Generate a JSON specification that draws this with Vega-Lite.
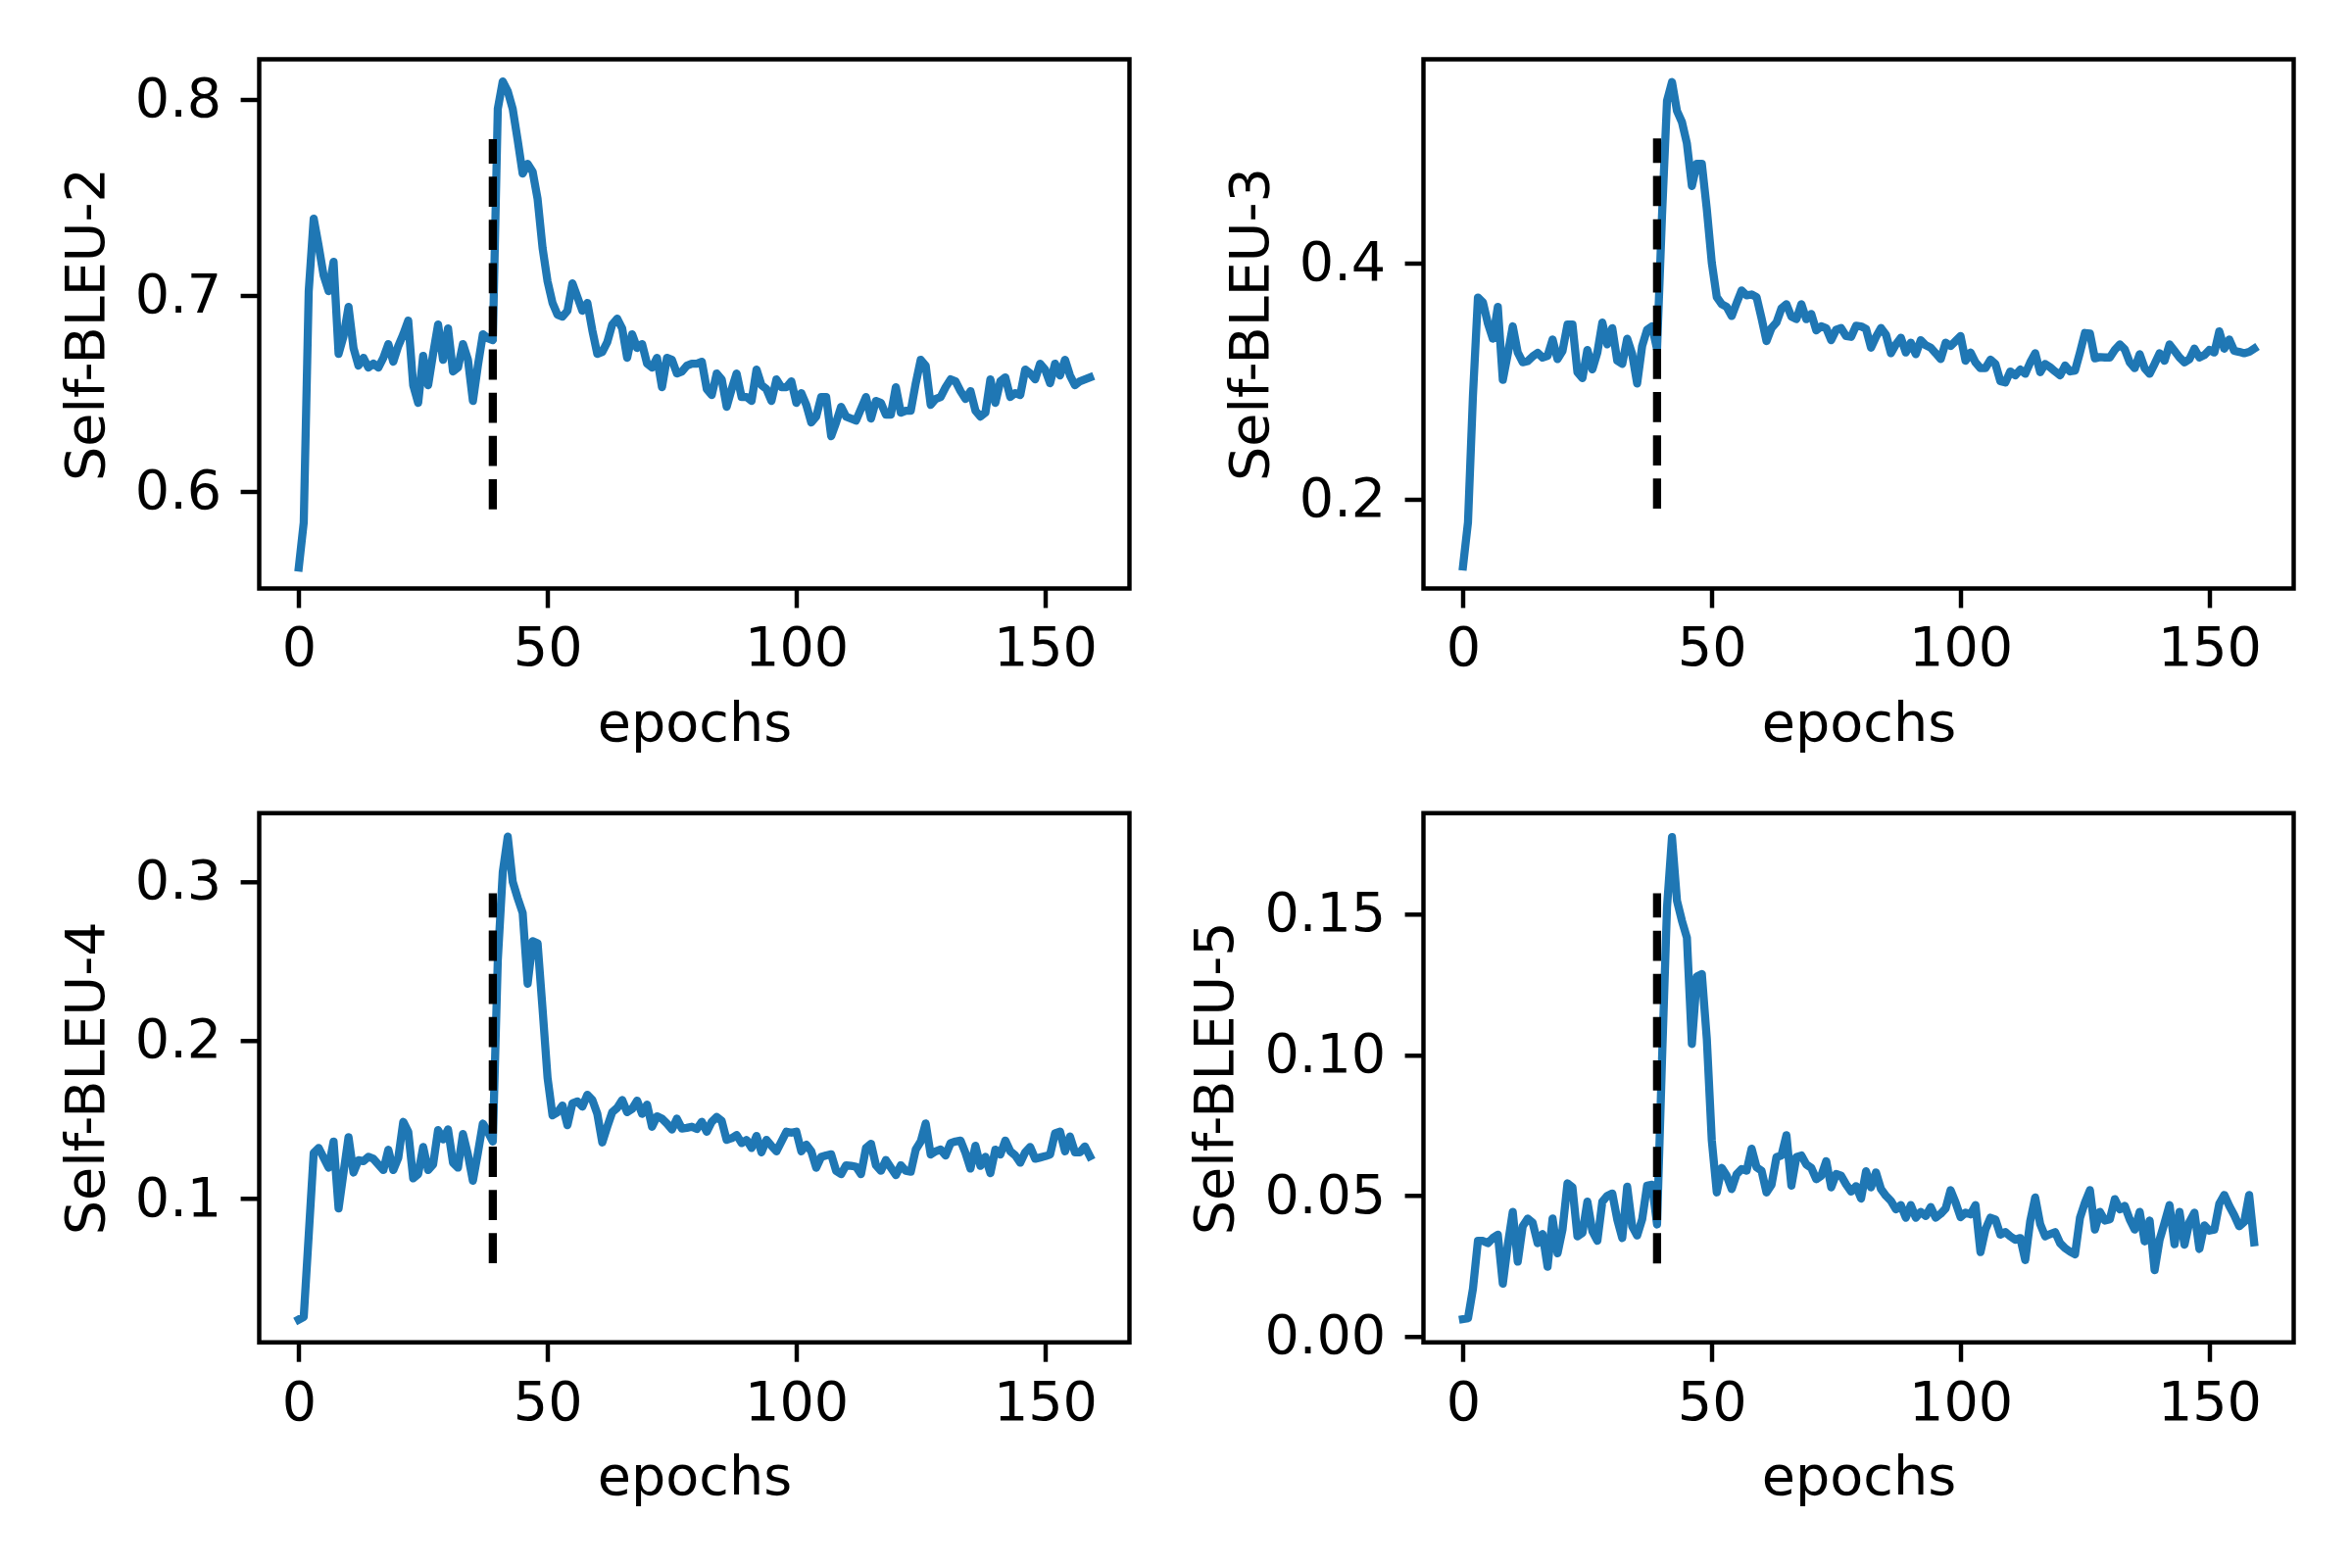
{
  "$schema": "https://vega.github.io/schema/vega-lite/v6.json",
  "background": "white",
  "padding": {"left": 58.5, "top": 57.5, "right": 10, "bottom": 10},
  "datasets": {
    "scores": [
      {"epoch":0,"sb2":0.561,"sb3":0.1426,"sb4":0.0237,"sb5":0.0062},
      {"epoch":1,"sb2":0.584,"sb3":0.180,"sb4":0.0254,"sb5":0.0065},
      {"epoch":2,"sb2":0.702,"sb3":0.288,"sb4":0.077,"sb5":0.017},
      {"epoch":3,"sb2":0.739,"sb3":0.371,"sb4":0.1289,"sb5":0.034},
      {"epoch":4,"sb2":0.725,"sb3":0.367,"sb4":0.132,"sb5":0.034},
      {"epoch":5,"sb2":0.710,"sb3":0.349,"sb4":0.1258,"sb5":0.0332},
      {"epoch":6,"sb2":0.702,"sb3":0.336,"sb4":0.1196,"sb5":0.035},
      {"epoch":7,"sb2":0.717,"sb3":0.363,"sb4":0.1361,"sb5":0.0362},
      {"epoch":8,"sb2":0.670,"sb3":0.301,"sb4":0.0938,"sb5":0.0188},
      {"epoch":9,"sb2":0.679,"sb3":0.323,"sb4":0.1165,"sb5":0.0326},
      {"epoch":10,"sb2":0.694,"sb3":0.3465,"sb4":0.1388,"sb5":0.0443},
      {"epoch":11,"sb2":0.673,"sb3":0.3243,"sb4":0.1165,"sb5":0.0266},
      {"epoch":12,"sb2":0.664,"sb3":0.316,"sb4":0.1243,"sb5":0.0392},
      {"epoch":13,"sb2":0.668,"sb3":0.317,"sb4":0.1237,"sb5":0.0419},
      {"epoch":14,"sb2":0.663,"sb3":0.321,"sb4":0.1264,"sb5":0.0404},
      {"epoch":15,"sb2":0.665,"sb3":0.324,"sb4":0.1252,"sb5":0.0332},
      {"epoch":16,"sb2":0.663,"sb3":0.320,"sb4":0.1216,"sb5":0.0364},
      {"epoch":17,"sb2":0.668,"sb3":0.3215,"sb4":0.1181,"sb5":0.0248},
      {"epoch":18,"sb2":0.675,"sb3":0.3354,"sb4":0.1309,"sb5":0.0419},
      {"epoch":19,"sb2":0.666,"sb3":0.3187,"sb4":0.1181,"sb5":0.0296},
      {"epoch":20,"sb2":0.674,"sb3":0.3257,"sb4":0.1258,"sb5":0.038},
      {"epoch":21,"sb2":0.680,"sb3":0.348,"sb4":0.1485,"sb5":0.0544},
      {"epoch":22,"sb2":0.687,"sb3":0.348,"sb4":0.1423,"sb5":0.053},
      {"epoch":23,"sb2":0.654,"sb3":0.3076,"sb4":0.1128,"sb5":0.0356},
      {"epoch":24,"sb2":0.645,"sb3":0.3026,"sb4":0.1155,"sb5":0.0368},
      {"epoch":25,"sb2":0.669,"sb3":0.3265,"sb4":0.1326,"sb5":0.0479},
      {"epoch":26,"sb2":0.654,"sb3":0.310,"sb4":0.1181,"sb5":0.0374},
      {"epoch":27,"sb2":0.670,"sb3":0.3243,"sb4":0.1216,"sb5":0.034},
      {"epoch":28,"sb2":0.685,"sb3":0.3498,"sb4":0.1433,"sb5":0.0479},
      {"epoch":29,"sb2":0.667,"sb3":0.3312,"sb4":0.1375,"sb5":0.05},
      {"epoch":30,"sb2":0.683,"sb3":0.345,"sb4":0.1437,"sb5":0.0508},
      {"epoch":31,"sb2":0.661,"sb3":0.3173,"sb4":0.1227,"sb5":0.0416},
      {"epoch":32,"sb2":0.663,"sb3":0.3146,"sb4":0.1196,"sb5":0.035},
      {"epoch":33,"sb2":0.675,"sb3":0.336,"sb4":0.1408,"sb5":0.0532},
      {"epoch":34,"sb2":0.667,"sb3":0.3229,"sb4":0.1278,"sb5":0.0392},
      {"epoch":35,"sb2":0.646,"sb3":0.298,"sb4":0.1113,"sb5":0.0359},
      {"epoch":36,"sb2":0.664,"sb3":0.3298,"sb4":0.1289,"sb5":0.0416},
      {"epoch":37,"sb2":0.680,"sb3":0.3437,"sb4":0.1474,"sb5":0.0536},
      {"epoch":38,"sb2":0.678,"sb3":0.3465,"sb4":0.1423,"sb5":0.0539},
      {"epoch":39,"sb2":0.677,"sb3":0.327,"sb4":0.1361,"sb5":0.0398},
      {"epoch":40,"sb2":0.795,"sb3":0.441,"sb4":0.2505,"sb5":0.0985},
      {"epoch":41,"sb2":0.809,"sb3":0.538,"sb4":0.3062,"sb5":0.1524},
      {"epoch":42,"sb2":0.804,"sb3":0.554,"sb4":0.3285,"sb5":0.1773},
      {"epoch":43,"sb2":0.795,"sb3":0.5295,"sb4":0.300,"sb5":0.1548},
      {"epoch":44,"sb2":0.779,"sb3":0.520,"sb4":0.2897,"sb5":0.1476},
      {"epoch":45,"sb2":0.762,"sb3":0.5018,"sb4":0.2804,"sb5":0.1416},
      {"epoch":46,"sb2":0.767,"sb3":0.4657,"sb4":0.2357,"sb5":0.1039},
      {"epoch":47,"sb2":0.763,"sb3":0.4846,"sb4":0.2625,"sb5":0.1278},
      {"epoch":48,"sb2":0.749,"sb3":0.4846,"sb4":0.2612,"sb5":0.1287},
      {"epoch":49,"sb2":0.724,"sb3":0.446,"sb4":0.2196,"sb5":0.1057},
      {"epoch":50,"sb2":0.707,"sb3":0.4005,"sb4":0.1763,"sb5":0.0697},
      {"epoch":51,"sb2":0.696,"sb3":0.3714,"sb4":0.1526,"sb5":0.0512},
      {"epoch":52,"sb2":0.690,"sb3":0.3653,"sb4":0.1546,"sb5":0.0599},
      {"epoch":53,"sb2":0.689,"sb3":0.363,"sb4":0.1588,"sb5":0.0571},
      {"epoch":54,"sb2":0.692,"sb3":0.3553,"sb4":0.1464,"sb5":0.0524},
      {"epoch":55,"sb2":0.706,"sb3":0.3664,"sb4":0.1602,"sb5":0.0577},
      {"epoch":56,"sb2":0.699,"sb3":0.377,"sb4":0.1614,"sb5":0.0595},
      {"epoch":57,"sb2":0.692,"sb3":0.3728,"sb4":0.1581,"sb5":0.0589},
      {"epoch":58,"sb2":0.696,"sb3":0.3736,"sb4":0.1656,"sb5":0.0667},
      {"epoch":59,"sb2":0.682,"sb3":0.3714,"sb4":0.1623,"sb5":0.0601},
      {"epoch":60,"sb2":0.670,"sb3":0.3534,"sb4":0.1536,"sb5":0.0589},
      {"epoch":61,"sb2":0.671,"sb3":0.334,"sb4":0.1355,"sb5":0.0512},
      {"epoch":62,"sb2":0.676,"sb3":0.345,"sb4":0.1454,"sb5":0.0539},
      {"epoch":63,"sb2":0.685,"sb3":0.3498,"sb4":0.1546,"sb5":0.0637},
      {"epoch":64,"sb2":0.688,"sb3":0.3617,"sb4":0.1573,"sb5":0.0643},
      {"epoch":65,"sb2":0.683,"sb3":0.3653,"sb4":0.1623,"sb5":0.0715},
      {"epoch":66,"sb2":0.668,"sb3":0.3548,"sb4":0.1546,"sb5":0.0536},
      {"epoch":67,"sb2":0.680,"sb3":0.3526,"sb4":0.1567,"sb5":0.0637},
      {"epoch":68,"sb2":0.673,"sb3":0.3653,"sb4":0.1619,"sb5":0.0643},
      {"epoch":69,"sb2":0.675,"sb3":0.3526,"sb4":0.1536,"sb5":0.0611},
      {"epoch":70,"sb2":0.665,"sb3":0.357,"sb4":0.1594,"sb5":0.0599},
      {"epoch":71,"sb2":0.663,"sb3":0.3431,"sb4":0.1454,"sb5":0.0559},
      {"epoch":72,"sb2":0.668,"sb3":0.3465,"sb4":0.152,"sb5":0.0571},
      {"epoch":73,"sb2":0.653,"sb3":0.345,"sb4":0.1505,"sb5":0.0623},
      {"epoch":74,"sb2":0.668,"sb3":0.3348,"sb4":0.1474,"sb5":0.053},
      {"epoch":75,"sb2":0.667,"sb3":0.3437,"sb4":0.1437,"sb5":0.0577},
      {"epoch":76,"sb2":0.660,"sb3":0.345,"sb4":0.1505,"sb5":0.0571},
      {"epoch":77,"sb2":0.661,"sb3":0.3382,"sb4":0.1443,"sb5":0.054},
      {"epoch":78,"sb2":0.664,"sb3":0.3376,"sb4":0.1447,"sb5":0.0515},
      {"epoch":79,"sb2":0.665,"sb3":0.347,"sb4":0.1454,"sb5":0.0534},
      {"epoch":80,"sb2":0.665,"sb3":0.3465,"sb4":0.144,"sb5":0.049},
      {"epoch":81,"sb2":0.666,"sb3":0.3443,"sb4":0.1485,"sb5":0.0587},
      {"epoch":82,"sb2":0.652,"sb3":0.3284,"sb4":0.1423,"sb5":0.053},
      {"epoch":83,"sb2":0.649,"sb3":0.3376,"sb4":0.1485,"sb5":0.0583},
      {"epoch":84,"sb2":0.660,"sb3":0.3451,"sb4":0.1516,"sb5":0.0524},
      {"epoch":85,"sb2":0.657,"sb3":0.3395,"sb4":0.1491,"sb5":0.05},
      {"epoch":86,"sb2":0.643,"sb3":0.3237,"sb4":0.1371,"sb5":0.0482},
      {"epoch":87,"sb2":0.652,"sb3":0.3312,"sb4":0.1382,"sb5":0.0452},
      {"epoch":88,"sb2":0.660,"sb3":0.3368,"sb4":0.1402,"sb5":0.0467},
      {"epoch":89,"sb2":0.648,"sb3":0.3243,"sb4":0.1351,"sb5":0.0422},
      {"epoch":90,"sb2":0.648,"sb3":0.3326,"sb4":0.1371,"sb5":0.0467},
      {"epoch":91,"sb2":0.646,"sb3":0.3229,"sb4":0.132,"sb5":0.0422},
      {"epoch":92,"sb2":0.662,"sb3":0.3348,"sb4":0.1396,"sb5":0.0443},
      {"epoch":93,"sb2":0.654,"sb3":0.3304,"sb4":0.1293,"sb5":0.0428},
      {"epoch":94,"sb2":0.652,"sb3":0.3284,"sb4":0.1371,"sb5":0.046},
      {"epoch":95,"sb2":0.646,"sb3":0.3237,"sb4":0.1334,"sb5":0.0422},
      {"epoch":96,"sb2":0.657,"sb3":0.3187,"sb4":0.1299,"sb5":0.0436},
      {"epoch":97,"sb2":0.653,"sb3":0.3326,"sb4":0.1361,"sb5":0.0455},
      {"epoch":98,"sb2":0.653,"sb3":0.3298,"sb4":0.1423,"sb5":0.052},
      {"epoch":99,"sb2":0.656,"sb3":0.334,"sb4":0.1417,"sb5":0.0476},
      {"epoch":100,"sb2":0.645,"sb3":0.3382,"sb4":0.1423,"sb5":0.0424},
      {"epoch":101,"sb2":0.650,"sb3":0.3173,"sb4":0.1299,"sb5":0.044},
      {"epoch":102,"sb2":0.644,"sb3":0.3243,"sb4":0.1341,"sb5":0.0434},
      {"epoch":103,"sb2":0.635,"sb3":0.3159,"sb4":0.1299,"sb5":0.0467},
      {"epoch":104,"sb2":0.638,"sb3":0.311,"sb4":0.1196,"sb5":0.03},
      {"epoch":105,"sb2":0.648,"sb3":0.311,"sb4":0.1264,"sb5":0.038},
      {"epoch":106,"sb2":0.648,"sb3":0.3182,"sb4":0.1273,"sb5":0.0422},
      {"epoch":107,"sb2":0.628,"sb3":0.3146,"sb4":0.128,"sb5":0.0416},
      {"epoch":108,"sb2":0.635,"sb3":0.2999,"sb4":0.1176,"sb5":0.0362},
      {"epoch":109,"sb2":0.643,"sb3":0.2988,"sb4":0.1155,"sb5":0.0371},
      {"epoch":110,"sb2":0.638,"sb3":0.3082,"sb4":0.1211,"sb5":0.0356},
      {"epoch":111,"sb2":0.637,"sb3":0.3049,"sb4":0.1207,"sb5":0.0344},
      {"epoch":112,"sb2":0.636,"sb3":0.3098,"sb4":0.1202,"sb5":0.035},
      {"epoch":113,"sb2":0.642,"sb3":0.3062,"sb4":0.1155,"sb5":0.0272},
      {"epoch":114,"sb2":0.648,"sb3":0.3159,"sb4":0.132,"sb5":0.041},
      {"epoch":115,"sb2":0.637,"sb3":0.3237,"sb4":0.1347,"sb5":0.0494},
      {"epoch":116,"sb2":0.646,"sb3":0.3076,"sb4":0.1211,"sb5":0.04},
      {"epoch":117,"sb2":0.645,"sb3":0.3146,"sb4":0.1176,"sb5":0.0356},
      {"epoch":118,"sb2":0.639,"sb3":0.3118,"sb4":0.1244,"sb5":0.0364},
      {"epoch":119,"sb2":0.639,"sb3":0.3082,"sb4":0.1196,"sb5":0.0371},
      {"epoch":120,"sb2":0.653,"sb3":0.3049,"sb4":0.1149,"sb5":0.0332},
      {"epoch":121,"sb2":0.640,"sb3":0.3132,"sb4":0.1211,"sb5":0.0314},
      {"epoch":122,"sb2":0.641,"sb3":0.3082,"sb4":0.1176,"sb5":0.0302},
      {"epoch":123,"sb2":0.641,"sb3":0.309,"sb4":0.117,"sb5":0.0292},
      {"epoch":124,"sb2":0.655,"sb3":0.3243,"sb4":0.131,"sb5":0.0422},
      {"epoch":125,"sb2":0.667,"sb3":0.3409,"sb4":0.1361,"sb5":0.0476},
      {"epoch":126,"sb2":0.664,"sb3":0.3404,"sb4":0.1475,"sb5":0.052},
      {"epoch":127,"sb2":0.644,"sb3":0.3193,"sb4":0.1279,"sb5":0.038},
      {"epoch":128,"sb2":0.647,"sb3":0.3204,"sb4":0.1299,"sb5":0.0443},
      {"epoch":129,"sb2":0.648,"sb3":0.3201,"sb4":0.131,"sb5":0.0412},
      {"epoch":130,"sb2":0.653,"sb3":0.3201,"sb4":0.1273,"sb5":0.0416},
      {"epoch":131,"sb2":0.657,"sb3":0.3265,"sb4":0.1351,"sb5":0.0488},
      {"epoch":132,"sb2":0.656,"sb3":0.3312,"sb4":0.1361,"sb5":0.0452},
      {"epoch":133,"sb2":0.651,"sb3":0.327,"sb4":0.1367,"sb5":0.0464},
      {"epoch":134,"sb2":0.647,"sb3":0.3159,"sb4":0.1289,"sb5":0.0416},
      {"epoch":135,"sb2":0.651,"sb3":0.311,"sb4":0.119,"sb5":0.038},
      {"epoch":136,"sb2":0.641,"sb3":0.3229,"sb4":0.1334,"sb5":0.0443},
      {"epoch":137,"sb2":0.638,"sb3":0.311,"sb4":0.1207,"sb5":0.0338},
      {"epoch":138,"sb2":0.640,"sb3":0.3062,"sb4":0.1264,"sb5":0.0412},
      {"epoch":139,"sb2":0.657,"sb3":0.3146,"sb4":0.1161,"sb5":0.0236},
      {"epoch":140,"sb2":0.645,"sb3":0.3237,"sb4":0.131,"sb5":0.0344},
      {"epoch":141,"sb2":0.656,"sb3":0.3173,"sb4":0.1279,"sb5":0.0404},
      {"epoch":142,"sb2":0.658,"sb3":0.3312,"sb4":0.1367,"sb5":0.0467},
      {"epoch":143,"sb2":0.648,"sb3":0.3257,"sb4":0.1299,"sb5":0.0328},
      {"epoch":144,"sb2":0.650,"sb3":0.3201,"sb4":0.1273,"sb5":0.0443},
      {"epoch":145,"sb2":0.649,"sb3":0.3159,"sb4":0.1227,"sb5":0.0326},
      {"epoch":146,"sb2":0.662,"sb3":0.3187,"sb4":0.1293,"sb5":0.0407},
      {"epoch":147,"sb2":0.660,"sb3":0.3276,"sb4":0.1326,"sb5":0.044},
      {"epoch":148,"sb2":0.657,"sb3":0.3201,"sb4":0.1252,"sb5":0.0311},
      {"epoch":149,"sb2":0.665,"sb3":0.3221,"sb4":0.126,"sb5":0.0395},
      {"epoch":150,"sb2":0.662,"sb3":0.3265,"sb4":0.1268,"sb5":0.0376},
      {"epoch":151,"sb2":0.655,"sb3":0.3243,"sb4":0.1279,"sb5":0.038},
      {"epoch":152,"sb2":0.665,"sb3":0.3423,"sb4":0.1413,"sb5":0.0472},
      {"epoch":153,"sb2":0.659,"sb3":0.3276,"sb4":0.1423,"sb5":0.0503},
      {"epoch":154,"sb2":0.667,"sb3":0.3354,"sb4":0.1299,"sb5":0.0464},
      {"epoch":155,"sb2":0.659,"sb3":0.3257,"sb4":0.1392,"sb5":0.0431},
      {"epoch":156,"sb2":0.654,"sb3":0.3248,"sb4":0.1293,"sb5":0.0392},
      {"epoch":157,"sb2":0.656,"sb3":0.3237,"sb4":0.1293,"sb5":0.0407},
      {"epoch":158,"sb2":0.657,"sb3":0.3248,"sb4":0.133,"sb5":0.0503},
      {"epoch":159,"sb2":0.658,"sb3":0.3276,"sb4":0.1268,"sb5":0.0335}
    ],
    "switch": [
      {"panel":"sb2","epoch":39,"lo":0.5907,"hi":0.7795},
      {"panel":"sb3","epoch":39,"lo":0.1917,"hi":0.506},
      {"panel":"sb4","epoch":39,"lo":0.0592,"hi":0.2928},
      {"panel":"sb5","epoch":39,"lo":0.026,"hi":0.1574}
    ]
  },
  "columns": 2,
  "bounds": "flush",
  "spacing": {"row": 229.3, "column": 300},
  "concat": [
    {
      "width": 888, "height": 540,
      "layer": [
        {
          "data": {"name": "scores"},
          "mark": {"type": "line", "color": "#1f77b4", "strokeWidth": 8.3, "strokeJoin": "round", "strokeCap": "square"},
          "encoding": {
            "x": {"field": "epoch", "type": "quantitative", "title": "epochs", "scale": {"domain": [-7.95, 166.95], "nice": false, "zero": false}, "axis": {"values": [0, 50, 100, 150]}},
            "y": {"field": "sb2", "type": "quantitative", "title": "Self-BLEU-2", "scale": {"domain": [0.5503, 0.8203], "nice": false, "zero": false}, "axis": {"values": [0.6, 0.7, 0.8], "format": ".1f"}}
          }
        },
        {
          "data": {"name": "switch"},
          "transform": [{"filter": "datum.panel == 'sb2'"}],
          "mark": {"type": "rule", "color": "black", "strokeWidth": 8.3, "strokeDash": [30.8, 13.3]},
          "encoding": {
            "x": {"field": "epoch", "type": "quantitative", "title": "epochs"},
            "y": {"field": "lo", "type": "quantitative", "title": "Self-BLEU-2"},
            "y2": {"field": "hi"}
          }
        }
      ]
    },
    {
      "width": 888, "height": 540,
      "layer": [
        {
          "data": {"name": "scores"},
          "mark": {"type": "line", "color": "#1f77b4", "strokeWidth": 8.3, "strokeJoin": "round", "strokeCap": "square"},
          "encoding": {
            "x": {"field": "epoch", "type": "quantitative", "title": "epochs", "scale": {"domain": [-7.95, 166.95], "nice": false, "zero": false}, "axis": {"values": [0, 50, 100, 150]}},
            "y": {"field": "sb3", "type": "quantitative", "title": "Self-BLEU-3", "scale": {"domain": [0.1239, 0.5733], "nice": false, "zero": false}, "axis": {"values": [0.2, 0.4], "format": ".1f"}}
          }
        },
        {
          "data": {"name": "switch"},
          "transform": [{"filter": "datum.panel == 'sb3'"}],
          "mark": {"type": "rule", "color": "black", "strokeWidth": 8.3, "strokeDash": [30.8, 13.3]},
          "encoding": {
            "x": {"field": "epoch", "type": "quantitative", "title": "epochs"},
            "y": {"field": "lo", "type": "quantitative", "title": "Self-BLEU-3"},
            "y2": {"field": "hi"}
          }
        }
      ]
    },
    {
      "width": 888, "height": 540,
      "layer": [
        {
          "data": {"name": "scores"},
          "mark": {"type": "line", "color": "#1f77b4", "strokeWidth": 8.3, "strokeJoin": "round", "strokeCap": "square"},
          "encoding": {
            "x": {"field": "epoch", "type": "quantitative", "title": "epochs", "scale": {"domain": [-7.95, 166.95], "nice": false, "zero": false}, "axis": {"values": [0, 50, 100, 150]}},
            "y": {"field": "sb4", "type": "quantitative", "title": "Self-BLEU-4", "scale": {"domain": [0.0093, 0.3433], "nice": false, "zero": false}, "axis": {"values": [0.1, 0.2, 0.3], "format": ".1f"}}
          }
        },
        {
          "data": {"name": "switch"},
          "transform": [{"filter": "datum.panel == 'sb4'"}],
          "mark": {"type": "rule", "color": "black", "strokeWidth": 8.3, "strokeDash": [30.8, 13.3]},
          "encoding": {
            "x": {"field": "epoch", "type": "quantitative", "title": "epochs"},
            "y": {"field": "lo", "type": "quantitative", "title": "Self-BLEU-4"},
            "y2": {"field": "hi"}
          }
        }
      ]
    },
    {
      "width": 888, "height": 540,
      "layer": [
        {
          "data": {"name": "scores"},
          "mark": {"type": "line", "color": "#1f77b4", "strokeWidth": 8.3, "strokeJoin": "round", "strokeCap": "square"},
          "encoding": {
            "x": {"field": "epoch", "type": "quantitative", "title": "epochs", "scale": {"domain": [-7.95, 166.95], "nice": false, "zero": false}, "axis": {"values": [0, 50, 100, 150]}},
            "y": {"field": "sb5", "type": "quantitative", "title": "Self-BLEU-5", "scale": {"domain": [-0.00205, 0.1858], "nice": false, "zero": false}, "axis": {"values": [0, 0.05, 0.1, 0.15], "format": ".2f"}}
          }
        },
        {
          "data": {"name": "switch"},
          "transform": [{"filter": "datum.panel == 'sb5'"}],
          "mark": {"type": "rule", "color": "black", "strokeWidth": 8.3, "strokeDash": [30.8, 13.3]},
          "encoding": {
            "x": {"field": "epoch", "type": "quantitative", "title": "epochs"},
            "y": {"field": "lo", "type": "quantitative", "title": "Self-BLEU-5"},
            "y2": {"field": "hi"}
          }
        }
      ]
    }
  ],
  "config": {
    "font": "DejaVu Sans",
    "view": {"stroke": "black", "strokeWidth": 4.44},
    "axis": {
      "domain": false,
      "grid": false,
      "tickColor": "black",
      "tickWidth": 4.44,
      "tickSize": 19.4,
      "labelPadding": 19.4,
      "labelFont": "DejaVu Sans",
      "labelFontSize": 55.6,
      "labelColor": "black",
      "labelFlush": false,
      "labelOverlap": false,
      "titleFont": "DejaVu Sans",
      "titleFontSize": 55.6,
      "titleFontWeight": "normal",
      "titleColor": "black"
    },
    "axisX": {"labelPadding": 15, "titlePadding": 21},
    "axisY": {"titlePadding": 20}
  }
}
